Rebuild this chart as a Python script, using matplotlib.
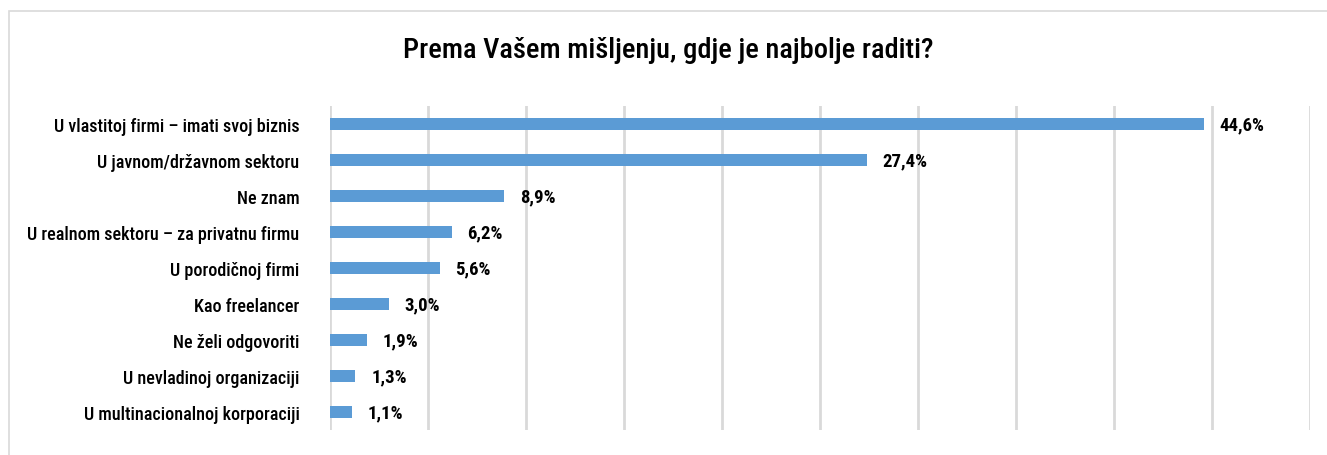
import matplotlib
matplotlib.use("Agg")
import matplotlib.pyplot as plt
from matplotlib import font_manager as fm
from matplotlib.patches import Rectangle

categories = [
    "U vlastitoj firmi – imati svoj biznis",
    "U javnom/državnom sektoru",
    "Ne znam",
    "U realnom sektoru – za privatnu firmu",
    "U porodičnoj firmi",
    "Kao freelancer",
    "Ne želi odgovoriti",
    "U nevladinoj organizaciji",
    "U multinacionalnoj korporaciji",
]
values = [44.6, 27.4, 8.9, 6.2, 5.6, 3.0, 1.9, 1.3, 1.1]
value_labels = ["44,6%", "27,4%", "8,9%", "6,2%", "5,6%", "3,0%", "1,9%", "1,3%", "1,1%"]
title = "Prema Vašem mišljenju, gdje je najbolje raditi?"

names = {f.name for f in fm.fontManager.ttflist}
fam = None
for cand in ["Roboto Condensed", "Liberation Sans Narrow", "DejaVu Sans Condensed", "Open Sans Condensed"]:
    if cand in names:
        fam = cand
        break
if fam is None:
    fam = "DejaVu Sans"
plt.rcParams['font.family'] = [fam, 'DejaVu Sans']

W, H = 1327, 456
fig = plt.figure(figsize=(W / 100, H / 100), dpi=100)
fig.patch.set_facecolor("white")

# outer chart border
fig.add_artist(Rectangle((9 / W, -0.1), 1.2, (H - 12) / H + 0.1, transform=fig.transFigure,
                         fill=False, edgecolor="#D9D9D9", linewidth=1.2))

ax = fig.add_axes([330 / W, 1 - 431 / H, (1310 - 330) / W, (431 - 107) / H])
y = list(range(len(categories)))
ax.barh(y, values, height=0.34, color="#5B9BD5", zorder=3)
ax.set_xlim(0, 50)
ax.set_ylim(len(categories) - 0.5, -0.5)
ax.set_xticks(range(0, 51, 5))
ax.xaxis.grid(True, color="#D9D9D9", linewidth=2, zorder=0)
ax.tick_params(axis="x", length=0, labelbottom=False)
ax.tick_params(axis="y", length=0, pad=22)
ax.set_yticks(y)
ax.set_yticklabels(categories, fontsize=13, color="black", fontweight="medium")
for s in ax.spines.values():
    s.set_visible(False)
for yi, v, lab in zip(y, values, value_labels):
    ax.text(v + 0.8, yi, lab, va="center", ha="left", fontsize=13.5, color="black",
            fontweight="bold")

fig.text(668 / W, 1 - 50 / H, title, ha="center", va="center", fontsize=20.5, color="black",
         fontweight="medium")

fig.savefig("out.png", dpi=100, facecolor="white")
